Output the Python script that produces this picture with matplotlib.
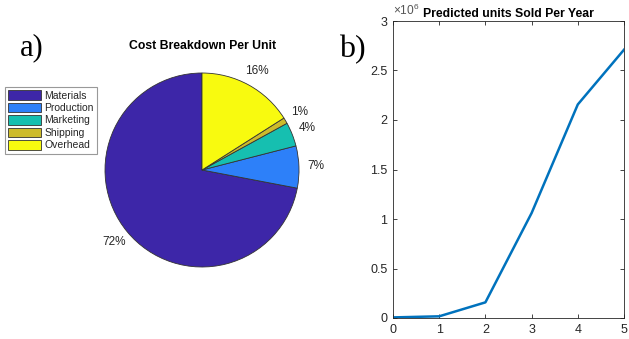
import matplotlib.pyplot as plt
import numpy as np
from matplotlib.patches import Patch
from matplotlib.ticker import FuncFormatter

# cost shares per unit (percent)
cost_labels = ['Materials', 'Production', 'Marketing', 'Shipping', 'Overhead']
cost_share = [72, 7, 4, 1, 16]
cost_colors = ['#3d26a8', '#2d80f9', '#16bfb0', '#cdbb2b', '#f8fa0f']

# predicted units sold per year
years = [0, 1, 2, 3, 4, 5]
units_sold = [0.006e6, 0.017e6, 0.158e6, 1.06e6, 2.157e6, 2.71e6]

W, H = 629, 339
fig = plt.figure(figsize=(W / 100, H / 100), dpi=100)
plt.rcParams['font.family'] = ['Liberation Sans', 'DejaVu Sans']
plt.rcParams['mathtext.fontset'] = 'custom'
plt.rcParams['mathtext.rm'] = 'Liberation Sans'

text_gray = '#262626'

# ---- a) pie chart ----
cx, cy, r = 202, 170, 97
ax1 = fig.add_axes([(cx - r) / W, (H - cy - r) / H, 2 * r / W, 2 * r / H])
wedges, texts = ax1.pie(cost_share, colors=cost_colors, startangle=90,
                        counterclock=True, labels=['%d%%' % v for v in cost_share],
                        labeldistance=1.17,
                        wedgeprops=dict(edgecolor='#333333', linewidth=0.6))
for w in wedges:
    w.set_clip_on(False)
for t in texts:
    t.set_fontsize(8.5)
    t.set_color(text_gray)
    t.set_ha('center')
    t.set_va('center')
ax1.set_xlim(-1, 1)
ax1.set_ylim(-1, 1)
ax1.set_aspect('equal')
fig.text(203 / W, 1 - 46 / H, 'Cost Breakdown Per Unit', ha='center', va='center',
         fontsize=8.8, fontweight='bold', color='black')

handles = [Patch(facecolor=c, edgecolor='#333333', linewidth=0.6) for c in cost_colors]
leg = fig.legend(handles, cost_labels, loc='upper left',
                 bbox_to_anchor=(5 / W, 1 - 87 / H), fontsize=7.5,
                 handlelength=3.2, handleheight=1.05, labelspacing=0.2,
                 handletextpad=0.3, borderpad=0.3, borderaxespad=0,
                 fancybox=False, framealpha=1)
leg.get_frame().set_edgecolor('#999999')
leg.get_frame().set_linewidth(0.8)
for t in leg.get_texts():
    t.set_color(text_gray)

fig.text(20 / W, 1 - 48 / H, 'a)', family='Liberation Serif', fontsize=22,
         ha='left', va='center')

# ---- b) line chart ----
ax2 = fig.add_axes([393 / W, 21 / H, 231 / W, 297 / H])
ax2.plot(years, units_sold, color='#0072bd', linewidth=1.8)
ax2.set_xlim(0, 5)
ax2.set_ylim(0, 3e6)
ax2.set_xticks(years)
ax2.set_yticks(np.arange(0, 3.01e6, 0.5e6))
ax2.yaxis.set_major_formatter(FuncFormatter(lambda v, p: '%g' % (v / 1e6)))
ax2.tick_params(direction='in', length=3, width=0.6, labelsize=9,
                colors=text_gray, top=True, right=True, pad=4)
for s in ax2.spines.values():
    s.set_color(text_gray)
    s.set_linewidth(0.6)
ax2.text(0.0, 1.01, r'$\times\mathrm{10}^{6}$', transform=ax2.transAxes, fontsize=8.6,
         color='#555555', ha='left', va='bottom')
ax2.set_title('Predicted units Sold Per Year', fontsize=8.8, fontweight='bold',
              pad=3, x=0.5)

fig.text(339 / W, 1 - 50 / H, 'b)', family='Liberation Serif', fontsize=23,
         ha='left', va='center')

fig.savefig('out.png', dpi=100)
